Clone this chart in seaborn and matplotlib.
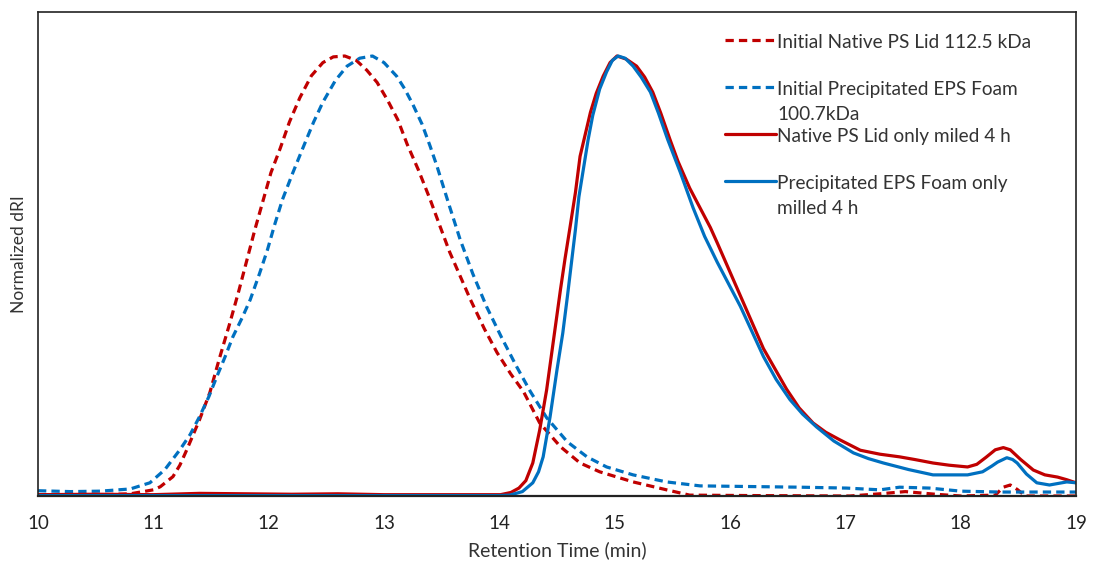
import numpy as np
import pandas as pd
import seaborn as sns
import matplotlib
matplotlib.use("Agg")
import matplotlib.pyplot as plt
from matplotlib.legend_handler import HandlerLine2D

# ---------------- data ----------------
rd_x = [10.0, 10.54, 10.80, 11.0, 11.06, 11.17, 11.23, 11.29, 11.40, 11.49, 11.57, 11.66, 11.74,
        11.81, 11.88, 11.95, 12.02, 12.10, 12.18, 12.27, 12.37, 12.47, 12.56, 12.66, 12.76, 12.85,
        12.94, 13.03, 13.12, 13.20, 13.30, 13.40, 13.49, 13.57, 13.66, 13.75, 13.87, 13.98, 14.10,
        14.21, 14.35, 14.53, 14.70, 14.87, 15.16, 15.45, 15.65, 16.17, 17.04, 17.30, 17.52, 17.78,
        18.0, 18.30, 18.37, 18.43, 18.49, 18.56, 19.0]
rd_y = [0.003, 0.003, 0.005, 0.014, 0.021, 0.044, 0.070, 0.105, 0.173, 0.235, 0.310, 0.390, 0.465,
        0.535, 0.605, 0.670, 0.735, 0.790, 0.850, 0.905, 0.955, 0.985, 0.998, 1.0, 0.990, 0.968,
        0.940, 0.900, 0.855, 0.800, 0.740, 0.674, 0.610, 0.554, 0.500, 0.446, 0.380, 0.326, 0.277,
        0.237, 0.166, 0.112, 0.075, 0.055, 0.032, 0.014, 0.002, 0.001, 0.0, 0.005, 0.010, 0.004,
        0.0, 0.002, 0.020, 0.025, 0.015, 0.0, 0.0]

bd_x = [10.0, 10.28, 10.54, 10.80, 10.97, 11.10, 11.23, 11.32, 11.40, 11.48, 11.55, 11.62, 11.69,
        11.77, 11.84, 11.92, 11.99, 12.05, 12.12, 12.21, 12.30, 12.39, 12.47, 12.58, 12.68, 12.79,
        12.90, 13.0, 13.11, 13.18, 13.25, 13.33, 13.40, 13.46, 13.56, 13.66, 13.77, 13.89, 14.02,
        14.15, 14.27, 14.41, 14.59, 14.76, 14.93, 15.16, 15.45, 15.74, 16.03, 16.61, 17.01, 17.30,
        17.47, 17.73, 18.0, 18.34, 19.0]
bd_y = [0.012, 0.010, 0.011, 0.016, 0.030, 0.060, 0.105, 0.140, 0.180, 0.225, 0.271, 0.315, 0.362,
        0.405, 0.446, 0.505, 0.560, 0.615, 0.674, 0.735, 0.793, 0.850, 0.895, 0.945, 0.977, 0.995,
        1.0, 0.985, 0.954, 0.925, 0.890, 0.845, 0.795, 0.749, 0.665, 0.583, 0.505, 0.430, 0.360,
        0.294, 0.237, 0.178, 0.123, 0.089, 0.066, 0.048, 0.032, 0.023, 0.022, 0.020, 0.018, 0.014,
        0.020, 0.018, 0.011, 0.009, 0.009]

rs_x = [10.0, 10.5, 11.0, 11.4, 11.8, 12.2, 12.6, 13.0, 13.4, 13.83, 14.01, 14.10, 14.17, 14.23,
        14.29, 14.35, 14.41, 14.47, 14.53, 14.57, 14.61, 14.66, 14.70, 14.79, 14.84, 14.90, 14.96,
        15.02, 15.10, 15.19, 15.26, 15.33, 15.40, 15.48, 15.55, 15.65, 15.73, 15.83, 15.89, 16.09,
        16.29, 16.49, 16.60, 16.72, 16.83, 16.95, 17.13, 17.30, 17.47, 17.60, 17.76, 17.90, 18.06,
        18.14, 18.22, 18.30, 18.37, 18.43, 18.52, 18.63, 18.73, 18.84, 18.92, 19.0]
rs_y = [0.003, 0.004, 0.003, 0.006, 0.005, 0.004, 0.005, 0.003, 0.003, 0.003, 0.003, 0.008, 0.018,
        0.035, 0.075, 0.150, 0.241, 0.355, 0.469, 0.540, 0.606, 0.690, 0.772, 0.872, 0.915, 0.954,
        0.985, 1.0, 0.993, 0.977, 0.952, 0.918, 0.870, 0.810, 0.760, 0.700, 0.660, 0.610, 0.575,
        0.455, 0.335, 0.243, 0.200, 0.166, 0.145, 0.128, 0.104, 0.095, 0.089, 0.083, 0.075, 0.070,
        0.066, 0.072, 0.088, 0.105, 0.110, 0.105, 0.083, 0.059, 0.048, 0.043, 0.037, 0.030]

bs_x = [10.0, 11.0, 12.0, 13.0, 14.0, 14.09, 14.20, 14.29, 14.34, 14.38, 14.44, 14.50, 14.55,
        14.59, 14.66, 14.69, 14.73, 14.77, 14.81, 14.87, 14.93, 14.98, 15.03, 15.09, 15.16, 15.23,
        15.31, 15.38, 15.46, 15.57, 15.68, 15.78, 15.89, 16.09, 16.29, 16.40, 16.52, 16.63, 16.75,
        16.90, 17.07, 17.20, 17.33, 17.55, 17.76, 18.06, 18.19, 18.27, 18.32, 18.40, 18.45, 18.49,
        18.57, 18.66, 18.77, 18.92, 19.0]
bs_y = [0.001, 0.001, 0.001, 0.001, 0.001, 0.002, 0.010, 0.030, 0.055, 0.089, 0.180, 0.287, 0.370,
        0.453, 0.606, 0.680, 0.745, 0.810, 0.865, 0.925, 0.964, 0.990, 1.0, 0.995, 0.977, 0.952,
        0.918, 0.870, 0.810, 0.735, 0.655, 0.590, 0.531, 0.431, 0.317, 0.265, 0.219, 0.186, 0.157,
        0.125, 0.098, 0.085, 0.075, 0.060, 0.048, 0.048, 0.055, 0.068, 0.077, 0.087, 0.083, 0.075,
        0.050, 0.030, 0.025, 0.032, 0.030]

labels = ["Initial Native PS Lid 112.5 kDa",
          "Initial Precipitated EPS Foam\n100.7kDa",
          "Native PS Lid only miled 4 h",
          "Precipitated EPS Foam only\nmilled 4 h"]
x_ticks = [10, 11, 12, 13, 14, 15, 16, 17, 18, 19]

RED = "#C00000"
BLUE = "#0070C0"

# ---------------- plot ----------------
sns.set_theme(style="white")
plt.rcParams["font.family"] = ["Lato", "DejaVu Sans"]

fig = plt.figure(figsize=(10.93, 5.64), dpi=100)
ax = fig.add_axes([38 / 1093, 1 - 496 / 564, (1076 - 38) / 1093, (496 - 12) / 564])

dash = (0, (2.6, 1.6))
sns.lineplot(x=rd_x, y=rd_y, ax=ax, color=RED, lw=2.3, linestyle=dash, label=labels[0],
             sort=False, estimator=None, dash_capstyle="butt")
sns.lineplot(x=bd_x, y=bd_y, ax=ax, color=BLUE, lw=2.3, linestyle=dash, label=labels[1],
             sort=False, estimator=None, dash_capstyle="butt")
sns.lineplot(x=rs_x, y=rs_y, ax=ax, color=RED, lw=2.3, label=labels[2],
             sort=False, estimator=None)
sns.lineplot(x=bs_x, y=bs_y, ax=ax, color=BLUE, lw=2.3, label=labels[3],
             sort=False, estimator=None)

ax.set_xlim(10, 19)
ax.set_ylim(0, 1.1)
ax.set_xticks(x_ticks)
ax.set_xticklabels([str(t) for t in x_ticks])
ax.set_yticks([])
ax.tick_params(axis="x", length=0, pad=13.5, labelsize=13.5, colors="#222222")
for s in ax.spines.values():
    s.set_color("#222222")
    s.set_linewidth(1.2)
ax.spines["bottom"].set_linewidth(1.6)
ax.set_xlabel("Retention Time (min)", fontsize=14, color="#333333", labelpad=7)
ax.set_ylabel("Normalized dRI", fontsize=12.5, color="#333333", labelpad=8)


class TopLine(HandlerLine2D):
    def __init__(self, shift, **kw):
        super().__init__(**kw)
        self.shift = shift

    def create_artists(self, legend, orig_handle, xdescent, ydescent, width, height,
                       fontsize, trans):
        arts = super().create_artists(legend, orig_handle, xdescent, ydescent, width,
                                      height, fontsize, trans)
        for a in arts:
            y = a.get_ydata()
            a.set_ydata([v + self.shift * fontsize for v in y])
        return arts


handles, labs = ax.get_legend_handles_labels()
ax.get_legend().remove()
padded = [l if "\n" in l else l + "\n " for l in labs]
hmap = {h: TopLine(0.78) for h in handles}
leg = ax.legend(handles, padded, handler_map=hmap, loc="upper left",
                bbox_to_anchor=(0.662, 0.955), frameon=False, fontsize=13.7,
                handlelength=2.65, handletextpad=0.08, labelspacing=0.28,
                borderpad=0, borderaxespad=0)
for t in leg.get_texts():
    t.set_color("#333333")
    t.set_linespacing(1.55)

fig.savefig("out.png", dpi=100)
